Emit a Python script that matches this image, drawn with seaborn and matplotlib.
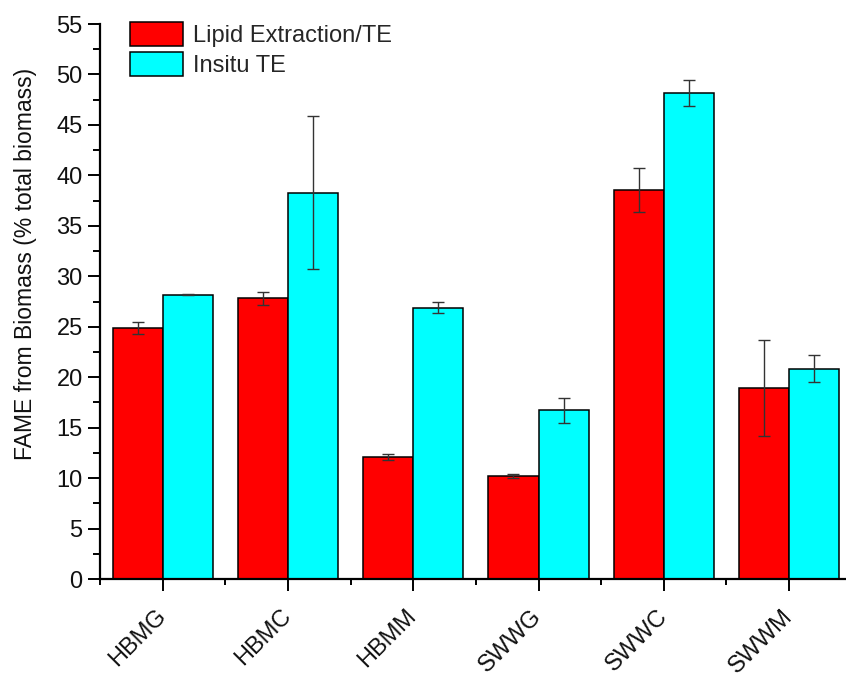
import matplotlib
matplotlib.use("Agg")
import matplotlib.pyplot as plt
from matplotlib.ticker import MultipleLocator, FixedLocator
import seaborn as sns
import pandas as pd

# Samples and FAME yields (% of total biomass) with their standard deviations
samples = ["HBMG", "HBMC", "HBMM", "SWWG", "SWWC", "SWWM"]
methods = ["Lipid Extraction/TE", "Insitu TE"]
lipid_te = [24.9, 27.8, 12.1, 10.2, 38.55, 18.9]
lipid_te_err = [0.6, 0.65, 0.3, 0.23, 2.2, 4.75]
insitu_te = [28.15, 38.3, 26.9, 16.7, 48.2, 20.85]
insitu_te_err = [0.05, 7.6, 0.58, 1.24, 1.3, 1.32]

colors = ["#ff0000", "#00ffff"]

df = pd.DataFrame({
    "sample": samples * 2,
    "method": [methods[0]] * len(samples) + [methods[1]] * len(samples),
    "fame": lipid_te + insitu_te,
    "err": lipid_te_err + insitu_te_err,
})

sns.set_theme(style="ticks")
plt.rcParams["font.family"] = ["Liberation Sans", "DejaVu Sans"]

fig = plt.figure(figsize=(8.46, 6.73), dpi=100)
ax = fig.add_axes([100 / 846, 94 / 673, 746 / 846, 555 / 673])

sns.barplot(data=df, x="sample", y="fame", hue="method", order=samples,
            hue_order=methods, palette=colors, width=0.8, gap=0,
            errorbar=None, edgecolor="black", linewidth=1.1, saturation=1,
            ax=ax)

# error bars at the centre of each drawn bar
for i, (vals, errs) in enumerate([(lipid_te, lipid_te_err), (insitu_te, insitu_te_err)]):
    bars = ax.containers[i]
    xs = [b.get_x() + b.get_width() / 2 for b in bars]
    ax.errorbar(xs, vals, yerr=errs, fmt="none", ecolor="#333333",
                elinewidth=1.0, capsize=4.5, capthick=1.0, zorder=5)

ax.set_xlim(-0.5, 5.454)
ax.set_ylim(0, 55)
ax.yaxis.set_major_locator(MultipleLocator(5))
ax.yaxis.set_minor_locator(MultipleLocator(2.5))
ax.xaxis.set_minor_locator(FixedLocator([-0.5, 0.5, 1.5, 2.5, 3.5, 4.5]))

for side in ["top", "right"]:
    ax.spines[side].set_visible(False)
for side in ["left", "bottom"]:
    ax.spines[side].set_linewidth(1.6)
    ax.spines[side].set_color("black")

ax.tick_params(axis="both", which="major", direction="out", length=8.5,
               width=1.4, color="black", labelsize=17, labelcolor="#111111")
ax.tick_params(axis="y", which="major", pad=4)
ax.tick_params(axis="y", which="minor", direction="out", length=5,
               width=1.4, color="black")
ax.tick_params(axis="x", which="minor", direction="out", length=4,
               width=1.4, color="black")
ax.tick_params(axis="x", which="major", pad=16)

plt.setp(ax.get_xticklabels(), rotation=45, ha="right",
         rotation_mode="anchor", va="center")

ax.set_xlabel("")
ax.set_ylabel("FAME from Biomass (% total biomass)", fontsize=16.5,
              color="#111111")
ax.yaxis.set_label_coords(-0.0845, 0.567)

handles, labels = ax.get_legend_handles_labels()
ax.legend(handles, labels, loc="upper left",
          bbox_to_anchor=(130 / 846, 1 - 22 / 673), bbox_transform=fig.transFigure,
          frameon=False, fontsize=17, handlelength=2.25, handleheight=1.2,
          labelspacing=0.2, handletextpad=0.4, borderpad=0, borderaxespad=0)

fig.savefig("out.png", dpi=100, facecolor="white")
